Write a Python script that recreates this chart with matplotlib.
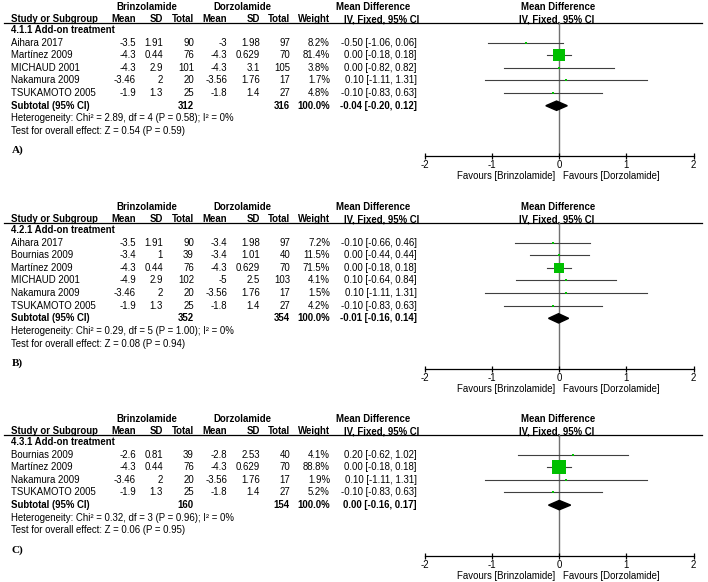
import matplotlib
matplotlib.use('Agg')
import matplotlib.pyplot as plt

plt.rcParams['font.family'] = ['Liberation Sans', 'DejaVu Sans']

W, H = 708, 582
FS = 6.9
STEP = 12.62

# ---------------- Panel A ----------------
a_group = "4.1.1 Add-on treatment"
a_studies = ["Aihara 2017", "Martínez 2009", "MICHAUD 2001", "Nakamura 2009", "TSUKAMOTO 2005"]
a_b_mean = [-3.5, -4.3, -4.3, -3.46, -1.9]
a_b_sd = [1.91, 0.44, 2.9, 2, 1.3]
a_b_n = [90, 76, 101, 20, 25]
a_d_mean = [-3, -4.3, -4.3, -3.56, -1.8]
a_d_sd = [1.98, 0.629, 3.1, 1.76, 1.4]
a_d_n = [97, 70, 105, 17, 27]
a_weight = [8.2, 81.4, 3.8, 1.7, 4.8]
a_md = [-0.50, 0.00, 0.00, 0.10, -0.10]
a_lo = [-1.06, -0.18, -0.82, -1.11, -0.83]
a_hi = [0.06, 0.18, 0.82, 1.31, 0.63]
a_totals = [312, 316]
a_sub_weight = 100.0
a_pooled = [-0.04, -0.20, 0.12]
a_het = "Heterogeneity: Chi² = 2.89, df = 4 (P = 0.58); I² = 0%"
a_test = "Test for overall effect: Z = 0.54 (P = 0.59)"

# ---------------- Panel B ----------------
b_group = "4.2.1 Add-on treatment"
b_studies = ["Aihara 2017", "Bournias 2009", "Martínez 2009", "MICHAUD 2001", "Nakamura 2009", "TSUKAMOTO 2005"]
b_b_mean = [-3.5, -3.4, -4.3, -4.9, -3.46, -1.9]
b_b_sd = [1.91, 1, 0.44, 2.9, 2, 1.3]
b_b_n = [90, 39, 76, 102, 20, 25]
b_d_mean = [-3.4, -3.4, -4.3, -5, -3.56, -1.8]
b_d_sd = [1.98, 1.01, 0.629, 2.5, 1.76, 1.4]
b_d_n = [97, 40, 70, 103, 17, 27]
b_weight = [7.2, 11.5, 71.5, 4.1, 1.5, 4.2]
b_md = [-0.10, 0.00, 0.00, 0.10, 0.10, -0.10]
b_lo = [-0.66, -0.44, -0.18, -0.64, -1.11, -0.83]
b_hi = [0.46, 0.44, 0.18, 0.84, 1.31, 0.63]
b_totals = [352, 354]
b_sub_weight = 100.0
b_pooled = [-0.01, -0.16, 0.14]
b_het = "Heterogeneity: Chi² = 0.29, df = 5 (P = 1.00); I² = 0%"
b_test = "Test for overall effect: Z = 0.08 (P = 0.94)"

# ---------------- Panel C ----------------
c_group = "4.3.1 Add-on treatment"
c_studies = ["Bournias 2009", "Martínez 2009", "Nakamura 2009", "TSUKAMOTO 2005"]
c_b_mean = [-2.6, -4.3, -3.46, -1.9]
c_b_sd = [0.81, 0.44, 2, 1.3]
c_b_n = [39, 76, 20, 25]
c_d_mean = [-2.8, -4.3, -3.56, -1.8]
c_d_sd = [2.53, 0.629, 1.76, 1.4]
c_d_n = [40, 70, 17, 27]
c_weight = [4.1, 88.8, 1.9, 5.2]
c_md = [0.20, 0.00, 0.10, -0.10]
c_lo = [-0.62, -0.18, -1.11, -0.83]
c_hi = [1.02, 0.18, 1.31, 0.63]
c_totals = [160, 154]
c_sub_weight = 100.0
c_pooled = [0.00, -0.16, 0.17]
c_het = "Heterogeneity: Chi² = 0.32, df = 3 (P = 0.96); I² = 0%"
c_test = "Test for overall effect: Z = 0.06 (P = 0.95)"

xticks = [-2, -1, 0, 1, 2]
xtick_labels = ["-2", "-1", "0", "1", "2"]
favours_left = "Favours [Brinzolamide]"
favours_right = "Favours [Dorzolamide]"

panels = [
    dict(letter="A)", group=a_group, studies=a_studies, bm=a_b_mean, bs=a_b_sd, bn=a_b_n,
         dm=a_d_mean, ds=a_d_sd, dn=a_d_n, w=a_weight, md=a_md, lo=a_lo, hi=a_hi,
         totals=a_totals, sw=a_sub_weight, pooled=a_pooled, het=a_het, test=a_test),
    dict(letter="B)", group=b_group, studies=b_studies, bm=b_b_mean, bs=b_b_sd, bn=b_b_n,
         dm=b_d_mean, ds=b_d_sd, dn=b_d_n, w=b_weight, md=b_md, lo=b_lo, hi=b_hi,
         totals=b_totals, sw=b_sub_weight, pooled=b_pooled, het=b_het, test=b_test),
    dict(letter="C)", group=c_group, studies=c_studies, bm=c_b_mean, bs=c_b_sd, bn=c_b_n,
         dm=c_d_mean, ds=c_d_sd, dn=c_d_n, w=c_weight, md=c_md, lo=c_lo, hi=c_hi,
         totals=c_totals, sw=c_sub_weight, pooled=c_pooled, het=c_het, test=c_test),
]
# layout: (row0 pixel, panel top pixel, panel bottom pixel)
layout = [(30, 0, 200), (230, 200, 412), (442, 412, 582)]

fig = plt.figure(figsize=(W / 100, H / 100), dpi=100)
fig.patch.set_facecolor('white')


def fmt(v):
    return f"{v:g}"


def draw_panel(p, row0, ptop, pbot):
    n = len(p['studies'])

    def rowof(px):
        return (px - row0) / STEP

    tax = fig.add_axes([0, 1 - pbot / H, 1, (pbot - ptop) / H])
    tax.set_xlim(0, W)
    tax.set_ylim(rowof(pbot), rowof(ptop))
    tax.axis('off')

    def t(x, r, s, ha='right', bold=False, **kw):
        tax.text(x, r, s, ha=ha, va='center', fontsize=FS,
                 fontweight='bold' if bold else 'normal', **kw)

    # headers
    r1, r2 = -1.85, -0.85
    t(147, r1, "Brinzolamide", ha='center', bold=True)
    t(242, r1, "Dorzolamide", ha='center', bold=True)
    t(373.5, r1, "Mean Difference", ha='center', bold=True)
    t(558, r1, "Mean Difference", ha='center', bold=True)
    t(11, r2, "Study or Subgroup", ha='left', bold=True)
    t(136, r2, "Mean", bold=True)
    t(163, r2, "SD", bold=True)
    t(194, r2, "Total", bold=True)
    t(227, r2, "Mean", bold=True)
    t(260, r2, "SD", bold=True)
    t(290, r2, "Total", bold=True)
    t(330, r2, "Weight", bold=True)
    t(382, r2, "IV, Fixed, 95% CI", ha='center', bold=True)
    t(557, r2, "IV, Fixed, 95% CI", ha='center', bold=True)
    tax.axhline(-0.55, xmin=4 / W, xmax=702 / W, color='black', lw=0.9)

    t(11, 0, p['group'], ha='left', bold=True)
    for i in range(n):
        r = i + 1
        t(11, r, p['studies'][i], ha='left')
        t(136, r, fmt(p['bm'][i]))
        t(163, r, fmt(p['bs'][i]))
        t(194, r, fmt(p['bn'][i]))
        t(227, r, fmt(p['dm'][i]))
        t(260, r, fmt(p['ds'][i]))
        t(290, r, fmt(p['dn'][i]))
        t(330, r, f"{p['w'][i]:.1f}%")
        t(416.7, r, f"{p['md'][i]:.2f} [{p['lo'][i]:.2f}, {p['hi'][i]:.2f}]")
    rs = n + 1
    pm, pl, ph = p['pooled']
    t(11, rs, "Subtotal (95% CI)", ha='left', bold=True)
    t(194, rs, str(p['totals'][0]), bold=True)
    t(290, rs, str(p['totals'][1]), bold=True)
    t(330, rs, f"{p['sw']:.1f}%", bold=True)
    t(416.7, rs, f"{pm:.2f} [{pl:.2f}, {ph:.2f}]", bold=True)
    t(11, n + 2, p['het'], ha='left')
    t(11, n + 3, p['test'], ha='left')
    tax.text(12, n + 4.55, p['letter'], ha='left', va='center', fontsize=8,
             fontweight='bold', family=['Liberation Serif', 'DejaVu Serif'])
    t(555, n + 6.6, favours_left, ha='right')
    t(563, n + 6.6, favours_right, ha='left')

    # forest axes
    ax_top = row0 - 0.55 * STEP
    ax_bot = row0 + (n + 5) * STEP
    fax = fig.add_axes([425 / W, 1 - ax_bot / H, (693.5 - 425) / W, (ax_bot - ax_top) / H])
    fax.set_xlim(-2, 2)
    fax.set_ylim(n + 5, -0.55)
    fax.patch.set_alpha(0)
    for s in ['top', 'left', 'right']:
        fax.spines[s].set_visible(False)
    fax.spines['bottom'].set_linewidth(0.9)
    fax.set_yticks([])
    fax.set_xticks(xticks)
    fax.set_xticklabels(xtick_labels)
    fax.tick_params(axis='x', direction='inout', length=5, width=0.9, labelsize=FS, pad=0.5)
    fax.axvline(0, color='#707070', lw=1.0, zorder=1)
    for i in range(n):
        r = i + 1
        fax.plot([p['lo'][i], p['hi'][i]], [r, r], color='#404040', lw=0.8, zorder=2,
                 clip_on=False)
        side = max(2.0, 0.147 * p['w'][i]) * 0.72
        fax.scatter([p['md'][i]], [r], s=side ** 2, marker='s', color='#00c000',
                    linewidths=0, zorder=3, clip_on=False)
    h = 0.37
    fax.fill([pl, pm, ph, pm], [rs, rs - h, rs, rs + h], color='black', zorder=3)


for p, (row0, ptop, pbot) in zip(panels, layout):
    draw_panel(p, row0, ptop, pbot)

fig.savefig('out.png', dpi=100)
